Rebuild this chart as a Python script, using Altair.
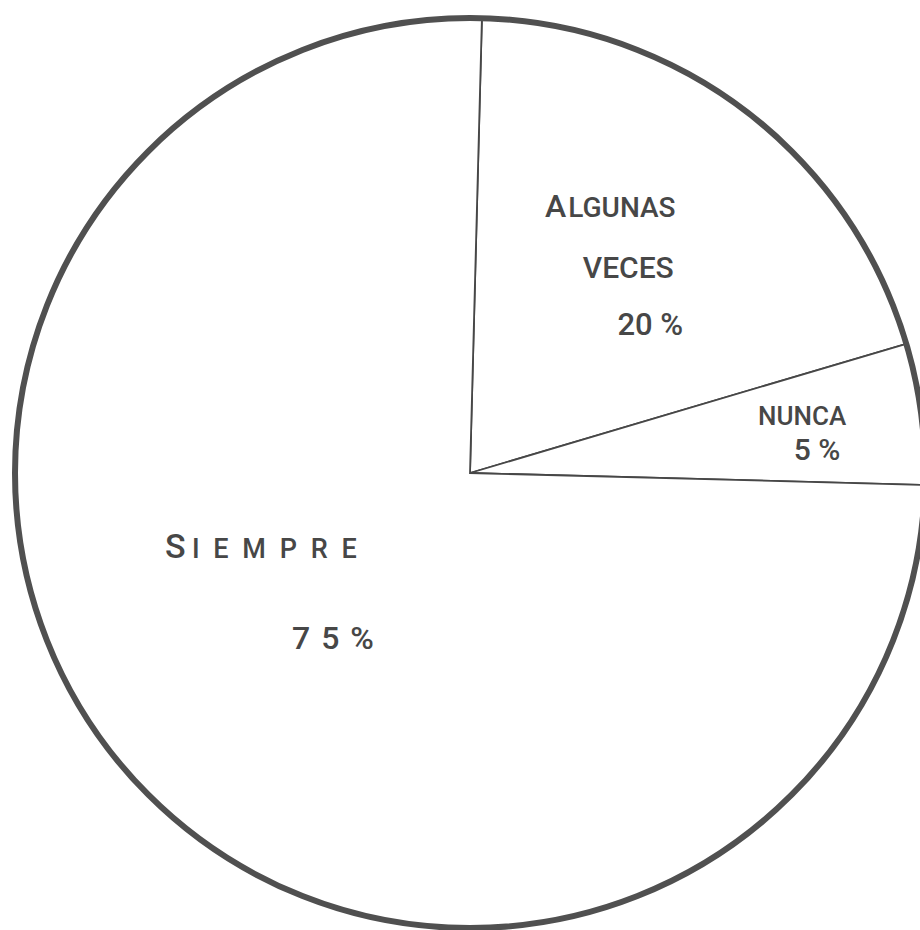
import math

import altair as alt
import pandas as pd

# Survey answers and their share of responses (%), in clockwise order from the top
categorias = ["Algunas veces", "Nunca", "Siempre"]
porcentajes = [20, 5, 75]
orden = [1, 2, 3]

df = pd.DataFrame({"categoria": categorias, "porcentaje": porcentajes, "orden": orden})

FONT = "Roboto"
WEIGHT = 500
INK = "#474747"
CX, CY, R = 470, 473, 455
inicio_angulo = math.radians(1.5)

theta_scale = alt.Scale(domain=[0, 100], range=[inicio_angulo, inicio_angulo + 2 * math.pi])

base = alt.Chart(df).transform_window(
    fin="sum(porcentaje)", sort=[alt.SortField("orden")], frame=[None, 0]
).transform_calculate(
    inicio="datum.fin - datum.porcentaje",
    medio="datum.fin - datum.porcentaje / 2",
)

# Slices with thin dividing lines
sectores = base.mark_arc(fill="white", stroke=INK, strokeWidth=1.8).encode(
    theta=alt.Theta("inicio:Q", scale=theta_scale, stack=None),
    theta2="fin:Q",
    radius=alt.value(R),
    x=alt.value(CX),
    y=alt.value(CY),
)

# Heavy outer rim
borde = alt.Chart(df).transform_aggregate(total="sum(porcentaje)").mark_arc(
    fill=None, filled=False, stroke="#505050", strokeWidth=6
).encode(
    theta=alt.value(0),
    theta2=alt.value(2 * math.pi),
    radius=alt.value(R),
    x=alt.value(CX),
    y=alt.value(CY),
)


def etiqueta(cat, texto, r, dx, dy, size, align="center"):
    """Text placed at the mid-angle of a slice, nudged by dx/dy."""
    return base.transform_filter(alt.datum.categoria == cat).mark_text(
        dx=dx, dy=dy, fontSize=size, font=FONT, fontWeight=WEIGHT, color=INK,
        align=align, baseline="alphabetic",
    ).encode(
        theta=alt.Theta("medio:Q", scale=theta_scale, stack=None),
        radius=alt.value(r),
        x=alt.value(CX),
        y=alt.value(CY),
        text=alt.value(texto),
    )


etiquetas = [
    etiqueta("Algunas veces", "A", 260, -62, -50, 32, "right"),
    etiqueta("Algunas veces", "LGUNAS", 260, -60, -50, 28, "left"),
    etiqueta("Algunas veces", "VECES", 260, 0, 11, 30),
    etiqueta("Algunas veces", "20 %", 260, 22, 68, 31),
    etiqueta("Nunca", "NUNCA", 340, -5, -4, 26),
    etiqueta("Nunca", "5 %", 340, 10, 31, 30),
    etiqueta("Siempre", "S", 200, -160, -53, 34, "left"),
    etiqueta("Siempre", "I\u2002E\u2002M\u2002P\u2002R\u2002E", 200, -133, -53, 27, "left"),
    etiqueta("Siempre", "7\u20045\u2004%", 200, 8, 38, 32),
]

chart = alt.layer(sectores, borde, *etiquetas).properties(
    width=920,
    height=930,
    autosize=alt.AutoSizeParams(type="none"),
    padding=0,
    background="white",
).configure_view(stroke=None)

chart.save("out.html", embed_options={"renderer": "svg", "actions": False})
